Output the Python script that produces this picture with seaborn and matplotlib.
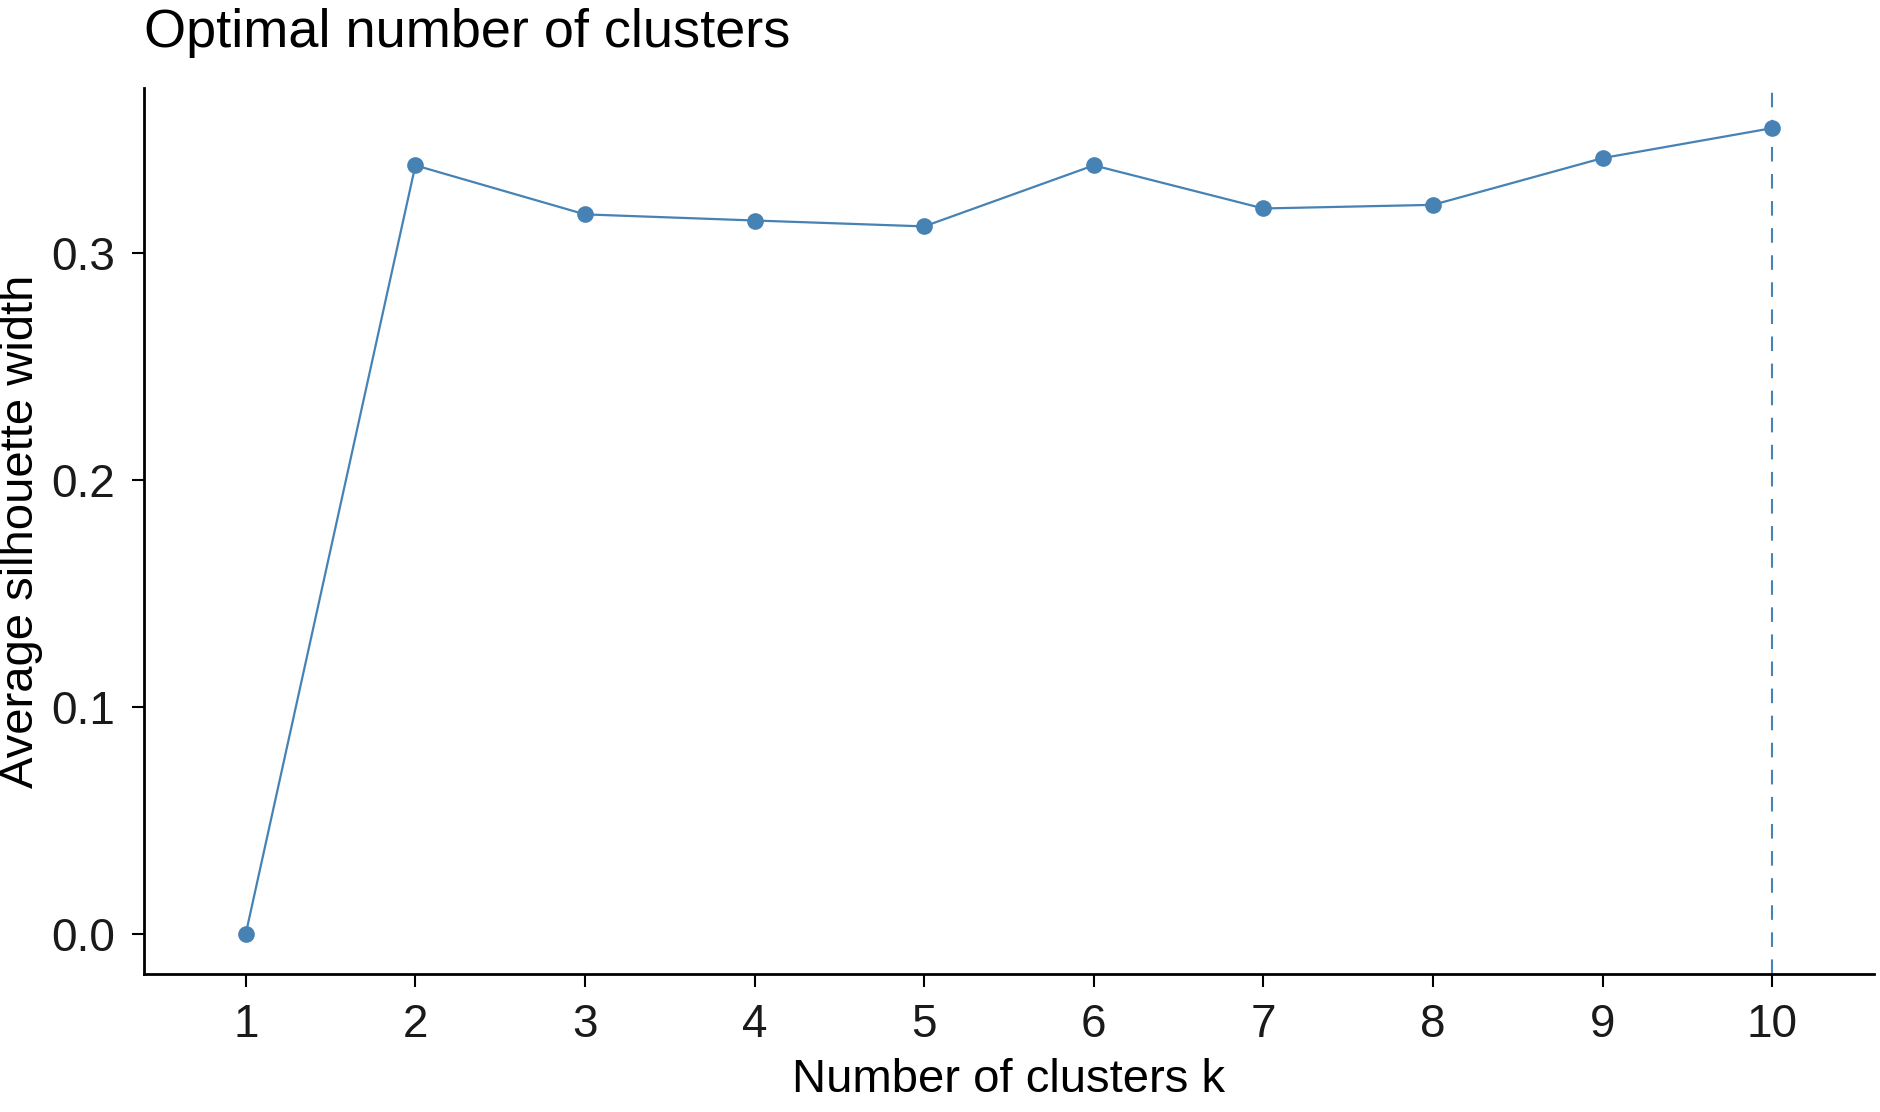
import matplotlib
matplotlib.use("Agg")
import matplotlib.pyplot as plt
import seaborn as sns
import pandas as pd

clusters = [1, 2, 3, 4, 5, 6, 7, 8, 9, 10]
silhouette = [0.0, 0.3386, 0.3170, 0.3143, 0.3117, 0.3386, 0.3196, 0.3212, 0.3418, 0.3550]
optimal_k = 10
tick_labels = ["1", "2", "3", "4", "5", "6", "7", "8", "9", "10"]

df = pd.DataFrame({"k": clusters, "sil": silhouette})

sns.set_theme(style="ticks")
plt.rcParams['font.family'] = ['Liberation Sans', 'DejaVu Sans']

color = "#4682B4"
fig = plt.figure(figsize=(18.8, 11.12), dpi=100)
ax = fig.add_axes([0.0766, 0.1241, 0.9202, 0.7968])

sns.lineplot(data=df, x="k", y="sil", ax=ax, color=color, linewidth=1.6,
             marker="o", markersize=12, markeredgewidth=0, markerfacecolor=color)
ax.axvline(optimal_k, color=color, linestyle=(0, (7, 6)), linewidth=1.5)

ax.set_xlim(0.4, 10.6)
ax.set_ylim(-0.0177, 0.3727)
ax.set_xticks(clusters)
ax.set_xticklabels(tick_labels)
ax.set_yticks([0.0, 0.1, 0.2, 0.3])
ax.set_yticklabels(["0.0", "0.1", "0.2", "0.3"])

for s in ["top", "right"]:
    ax.spines[s].set_visible(False)
for s in ["left", "bottom"]:
    ax.spines[s].set_color("black")
    ax.spines[s].set_linewidth(2)
ax.tick_params(axis="both", colors="black", length=9, width=1.5, labelsize=33)
ax.tick_params(axis="x", pad=12)
ax.tick_params(axis="y", pad=12)
for lab in ax.get_xticklabels() + ax.get_yticklabels():
    lab.set_color("#1a1a1a")

ax.set_xlabel("Number of clusters k", fontsize=34, color="black", labelpad=8)
ax.set_ylabel("Average silhouette width", fontsize=34, color="black", labelpad=6)
fig.text(0.0766, 0.970, "Optimal number of clusters", fontsize=39, color="black",
         ha="left", va="center")

fig.savefig("out.png", dpi=100, facecolor="white")
